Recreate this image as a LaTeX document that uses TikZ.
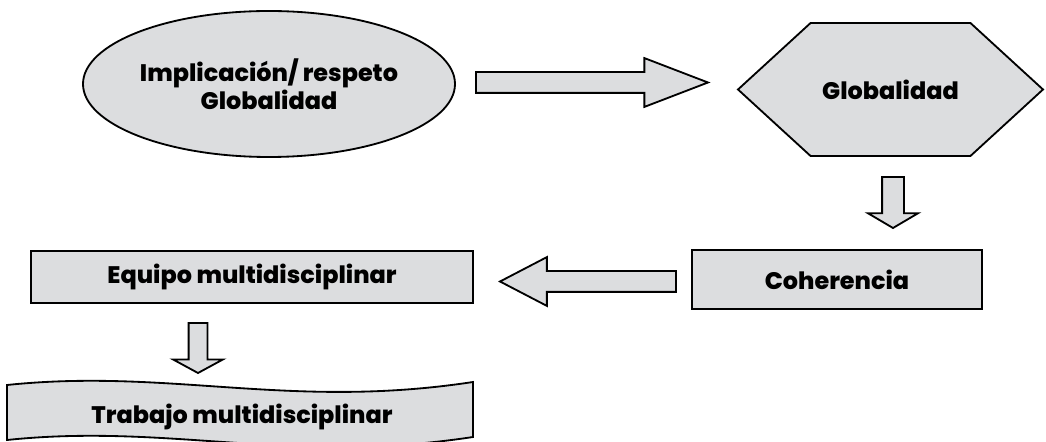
\documentclass[tikz,border=0pt]{standalone}
\usepackage{fontspec}
\setmainfont{Poppins}[BoldFont={Poppins ExtraBold}]
\usetikzlibrary{shapes.geometric,shapes.arrows,shapes.symbols}
\definecolor{boxgray}{RGB}{220,221,223}
\tikzset{
    panel/.style={draw, line width=1.3pt, fill=boxgray},
    txt/.style={font=\fontsize{17}{19.9}\selectfont\bfseries, align=center},
    box/.style={panel, txt, inner sep=0pt},
    fatarrow/.style={panel, single arrow, inner xsep=0pt, outer sep=0pt, anchor=tail},
}
\begin{document}
\begin{tikzpicture}
\useasboundingbox (0,0) rectangle (26.15,11.025);
\clip (0,0) rectangle (26.15,11.025);
\node[box, ellipse, minimum width=9.3cm, minimum height=3.65cm] (impl) at (6.725,8.925) {Implicación/ respeto\\Globalidad};
\node[box, signal, signal to=east and west, signal pointer angle=85,
    minimum width=7.625cm, minimum height=3.325cm] (glob) at (22.2625,8.7875) {Globalidad};
\node[box, minimum width=7.25cm, minimum height=1.475cm] (coher) at (20.925,4.0375) {Coherencia};
\node[box, minimum width=11.05cm, minimum height=1.3cm] (equipo) at (6.3,4.1) {Equipo multidisciplinar};
\draw[panel] (0.175,1.4) .. controls (4.25,1.825) and (7.25,0.775) .. (11.825,1.475)
    -- (11.825,0.1) .. controls (7.25,-0.6) and (4.25,0.45) .. (0.175,0.025) -- cycle;
\node[txt] (trab) at (6.05,0.6) {Trabajo multidisciplinar};

\node[fatarrow, inner ysep=0.2375cm, single arrow head extend=0.35cm, single arrow tip angle=42,
    minimum height=5.8cm] (toglob) at (11.9,8.9625) {};
\node[fatarrow, rotate=-90, inner ysep=0.25cm, single arrow head extend=0.35cm, single arrow tip angle=119,
    minimum height=1.275cm] (tocoher) at (22.325,6.6) {};
\node[fatarrow, rotate=180, inner ysep=0.2375cm, single arrow head extend=0.35cm, single arrow tip angle=55,
    minimum height=4.4cm] (toequipo) at (16.9,3.9875) {};
\node[fatarrow, rotate=-90, inner ysep=0.2125cm, single arrow head extend=0.39cm, single arrow tip angle=123,
    minimum height=1.25cm] (totrab) at (4.95,2.95) {};
\end{tikzpicture}
\end{document}
